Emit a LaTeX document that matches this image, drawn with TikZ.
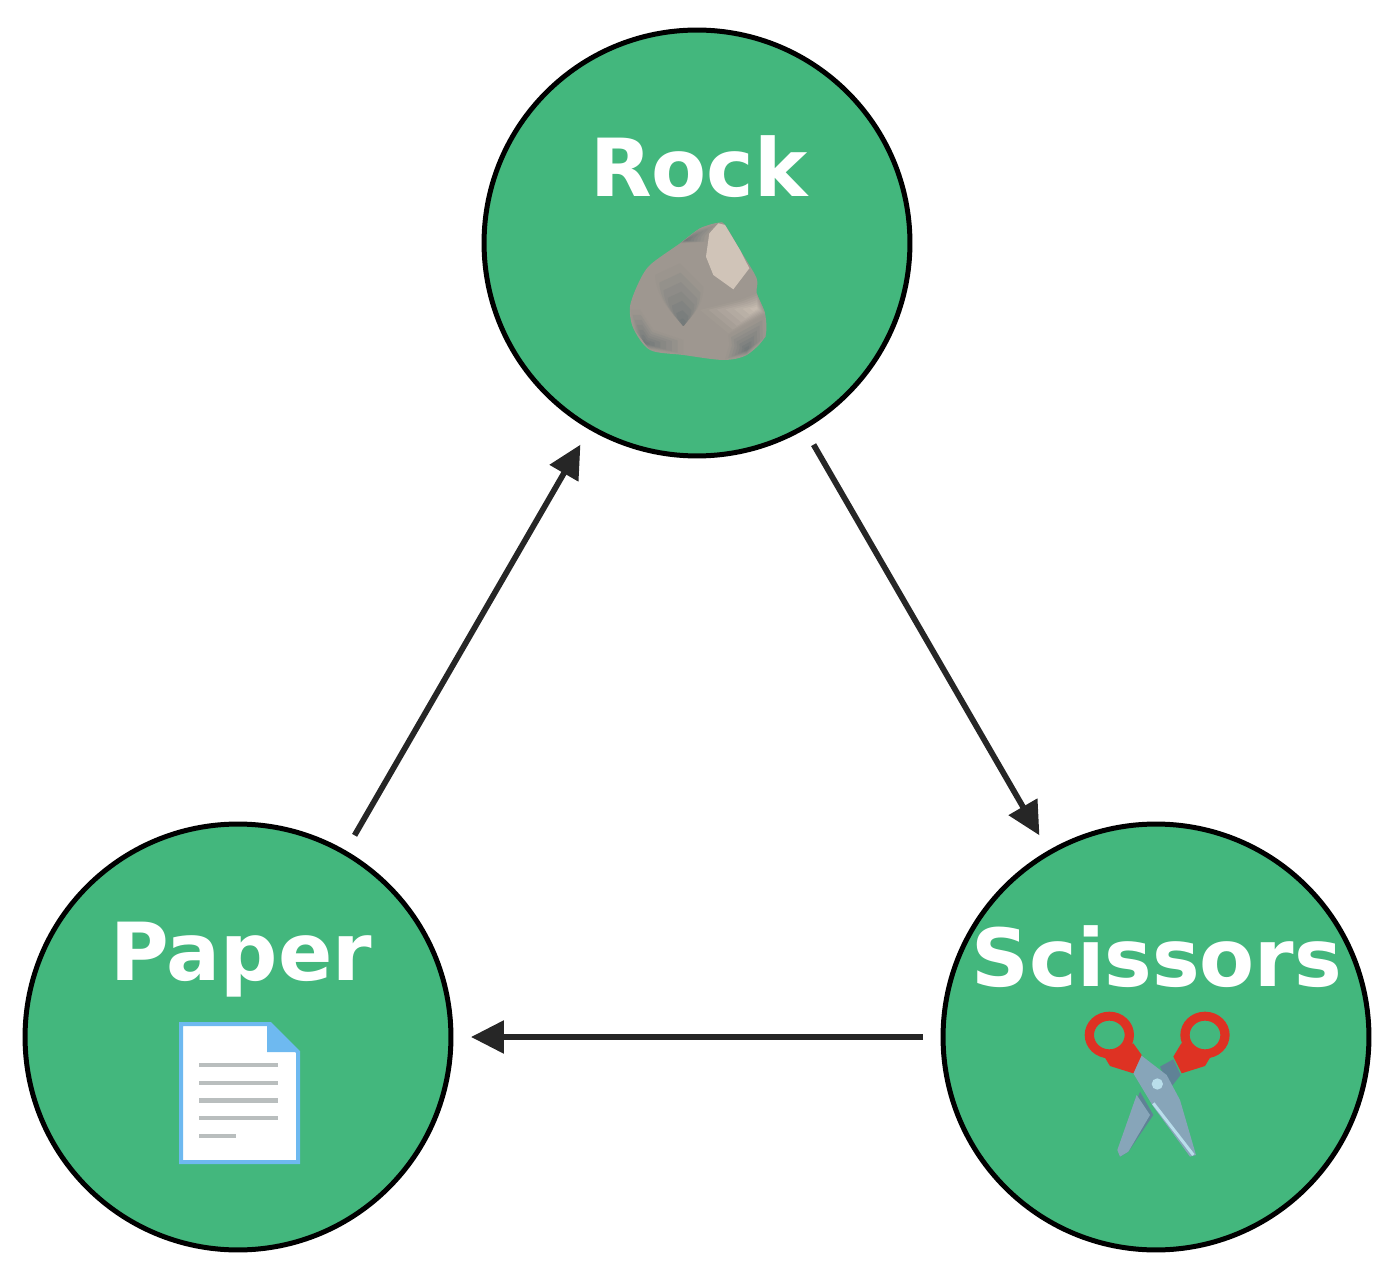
\documentclass[tikz,border=0pt]{standalone}
\usepackage{fontspec}
\setmainfont{DejaVu Sans}
\usepackage{xcolor}
\usetikzlibrary{arrows.meta}

\definecolor{movegreen}{RGB}{67,183,125}
\definecolor{linedark}{RGB}{38,38,38}
\definecolor{paperblue}{RGB}{110,185,240}
\definecolor{paperline}{RGB}{185,190,190}
\definecolor{rockmid}{RGB}{158,151,144}
\definecolor{rocklight}{RGB}{208,196,184}
\definecolor{rockdark}{RGB}{105,115,116}
\definecolor{handlered}{RGB}{222,50,35}
\definecolor{bladeblue}{RGB}{135,165,185}
\definecolor{bladedark}{RGB}{95,130,150}
\definecolor{bladelight}{RGB}{185,222,235}

\tikzset{
  move/.style={circle,draw=black,fill=movegreen,line width=0.1cm,
    minimum size=8.52cm,outer sep=0.4cm,inner sep=0pt},
  movelabel/.style={anchor=base,text=white,inner sep=0pt,
    font=\fontsize{45.6}{50}\selectfont\bfseries},
  beats/.style={draw=linedark,line width=0.115cm,
    -{Triangle[length=0.66cm,width=0.64cm]}}
}
\newcommand{\rocksteps}{1/6,.85/18,.7/30,.55/42,.4/55,.25/68,.12/80}

\begin{document}
\begin{tikzpicture}[x=0.02cm,y=-0.02cm]
\useasboundingbox (0,0) rectangle (1400,1283);

% Three moves
\node[move] (rock) at (697,243) {};
\node[move] (paper) at (238,1037) {};
\node[move] (scissors) at (1156,1037) {};

% Labels
\node[movelabel] (rocktext) at (699,197) {Rock};
\node[movelabel] (papertext) at (241,980) {Paper};
\node[movelabel] (scissorstext) at (1157,986) {Scissors};

% Who beats who
\draw[beats] (rock) -- (scissors);
\draw[beats] (scissors) -- (paper);
\draw[beats] (paper) -- (rock);

% Rock icon, in crop pixels
\begin{scope}[shift={(600,200)},x=0.02cm/3,y=-0.02cm/3]
\fill[rockmid] plot[smooth cycle,tension=0.5] coordinates {(355,68) (300,85) (240,130) (150,195) (115,250) (90,320)
  (100,385) (150,450) (250,465) (370,480) (440,465) (495,410) (495,340) (470,280) (470,235) (420,150) (375,75)};
% lower left
\foreach \s/\c in \rocksteps
  \fill[rockdark!\c!rockmid,shift={(135,430)},scale=\s] (-43,-100) -- (-33,-45) -- (15,18) -- (115,33) -- (115,-10) -- (25,-40) -- (-15,-100) -- cycle;
% middle hollow
\foreach \s/\c in \rocksteps
  \fill[rockdark!\c!rockmid,shift={(250,378)},scale=\s] (-85,-153) .. controls (-80,-78) and (-30,-38) .. (0,0)
    .. controls (30,-38) and (60,-58) .. (60,-118) -- (-10,-188) -- cycle;
% top left
\foreach \s/\c in \rocksteps
  \fill[rockdark!\c!rockmid,shift={(255,122)},scale=\s] (-15,8) -- (45,-37) -- (100,-52) -- (70,-17) -- (65,3) -- cycle;
% top right and right
\fill[rocklight] (328,100) -- (355,70) -- (375,75) -- (420,150) -- (448,205) -- (400,268) -- (340,225) -- (318,170) -- cycle;
\foreach \s/\c in \rocksteps
  \fill[rocklight!\c!rockmid,shift={(470,325)},scale=\s] (-170,5) -- (-85,75) -- (25,15) -- (0,-45) -- (-50,-25) -- cycle;
% lower right
\foreach \s/\c in \rocksteps
  \fill[rockdark!\c!rockmid,shift={(440,450)},scale=\s] (-55,-45) -- (55,-105) -- (57,-40) -- (0,15) -- (-65,28) -- (-52,-15) -- cycle;
\end{scope}

% Paper icon
\begin{scope}
\fill[white,draw=paperblue,line width=0.08cm] (181,1024) -- (270,1024) -- (298,1052) -- (298,1162) -- (181,1162) -- cycle;
\fill[paperblue] (270,1023) -- (299,1052) -- (267,1052) -- (267,1023) -- cycle;
\foreach \y/\xend in {1065/278, 1083/278, 1100.5/278, 1118/278, 1136/236}
  \draw[paperline,line width=0.09cm] (199,\y) -- (\xend,\y);
\end{scope}

% Scissors icon, in crop pixels
\begin{scope}[shift={(1070,1000)},x=0.02cm/3,y=-0.02cm/3]
\fill[bladedark] (210,275) -- (145,450) -- (150,470) -- (175,455) -- (250,345) -- cycle;
\fill[bladeblue] (200,285) -- (142,450) -- (150,470) -- (175,455) -- (240,345) -- cycle;
\fill[bladedark] (270,200) -- (310,178) -- (332,225) -- (300,265) -- cycle;
\fill[bladeblue] (212,165) -- (190,220) -- (250,320) -- (360,470) -- (378,465) -- (330,300) -- (290,225) -- cycle;
\draw[bladelight,line width=0.06cm] (250,310) -- (370,465);
\fill[bladelight] (262,252) circle[radius=17];
\fill[handlered,even odd rule] (118,105) ellipse[x radius=74,y radius=70] (118,105) ellipse[x radius=46,y radius=43];
\fill[handlered] (190,130) -- (215,165) -- (190,220) -- (120,198) -- (100,165) -- cycle;
\fill[handlered,even odd rule] (405,105) ellipse[x radius=74,y radius=70] (405,105) ellipse[x radius=46,y radius=43];
\fill[handlered] (334,130) -- (310,170) -- (335,220) -- (405,198) -- (425,165) -- cycle;
\end{scope}
\end{tikzpicture}
\end{document}
